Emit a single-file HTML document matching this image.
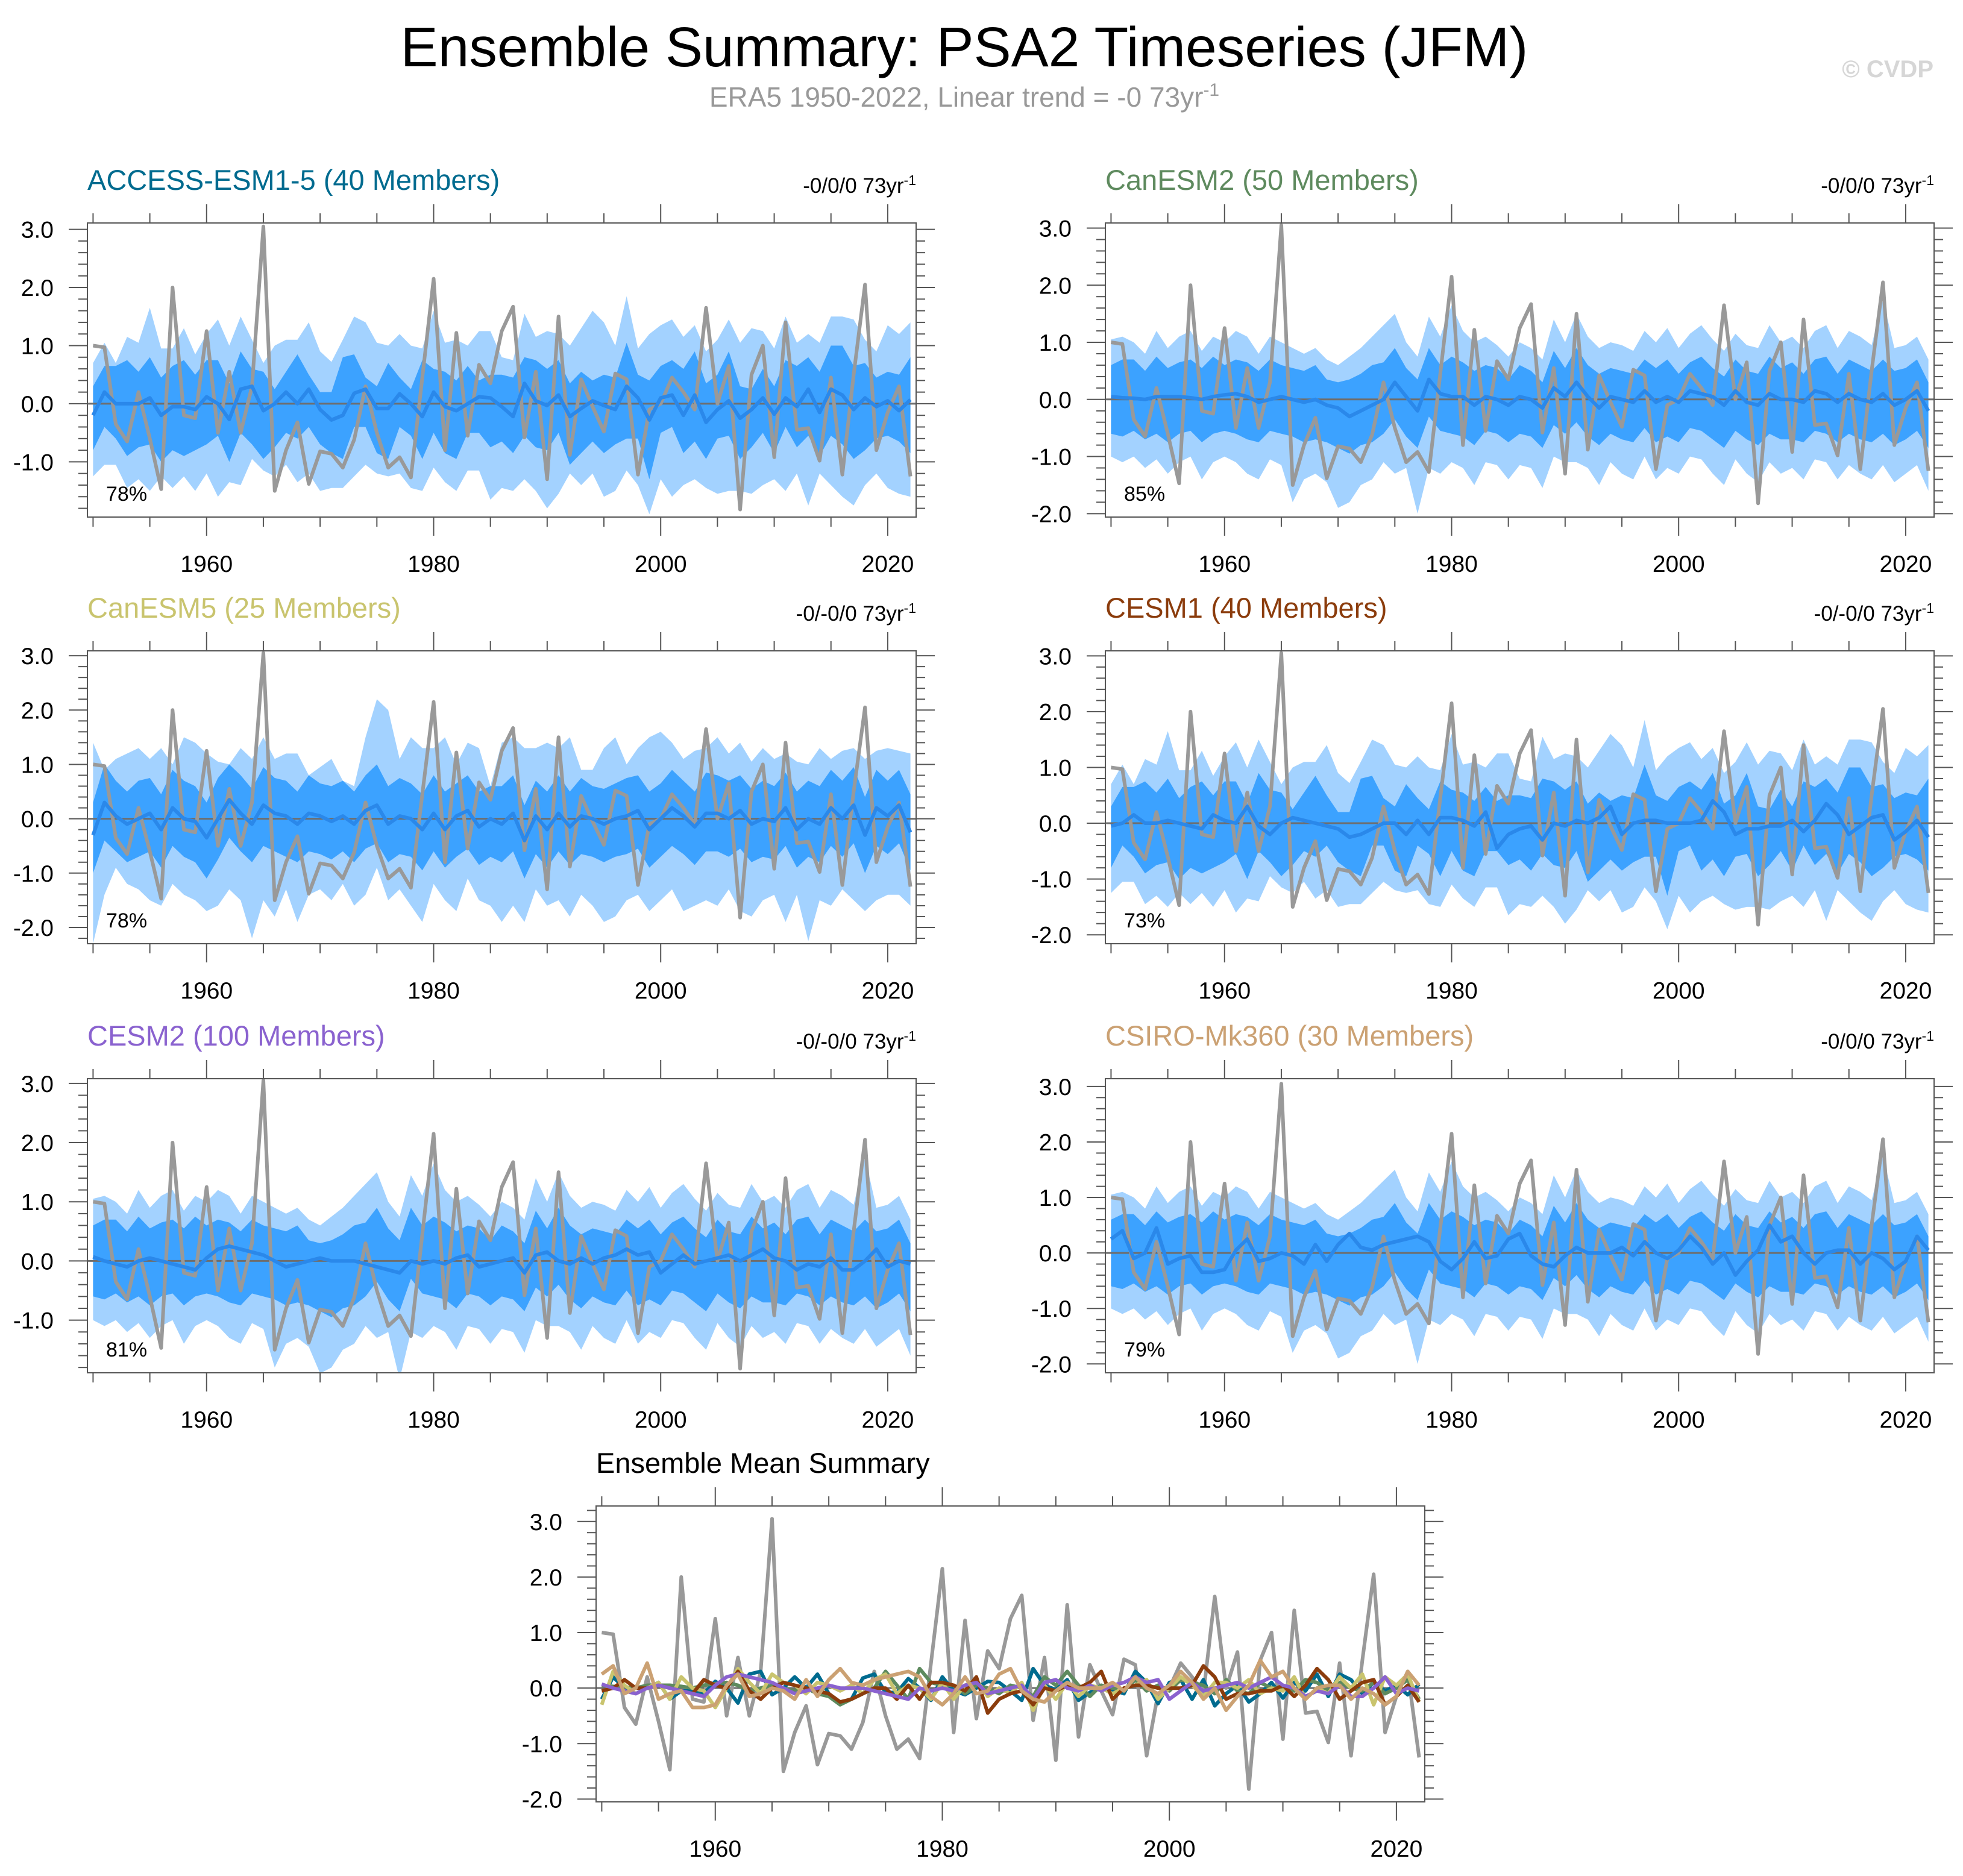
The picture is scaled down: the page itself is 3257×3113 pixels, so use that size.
<!DOCTYPE html>
<html><head><meta charset="utf-8">
<style>
html,body{margin:0;padding:0;background:#fff;}
svg{display:block;font-family:"Liberation Sans",sans-serif;}
</style></head>
<body>
<svg id="fig" width="3257" height="3113" viewBox="0 0 3257 3113" xmlns="http://www.w3.org/2000/svg">
<text x="1600" y="110" font-size="93" text-anchor="middle" fill="#000">Ensemble Summary: PSA2 Timeseries (JFM)</text>
<text x="1600" y="177" font-size="46" text-anchor="middle" fill="#999">ERA5 1950-2022, Linear trend = -0 73yr<tspan dy="-18" font-size="30">-1</tspan></text>
<text x="3208" y="128" font-size="40" font-weight="bold" text-anchor="end" fill="#d6d6d6">© CVDP</text>
</svg>
<script>
const years = []; for (let y = 1950; y <= 2022; y++) years.push(y);
const era5 = [1.0,0.97,-0.35,-0.65,0.2,-0.6,-1.47,2.0,-0.2,-0.25,
1.25,-0.5,0.55,-0.5,0.3,3.05,-1.5,-0.8,-0.32,-1.38,
-0.82,-0.86,-1.1,-0.62,0.3,-0.5,-1.1,-0.92,-1.27,0.45,
2.15,-0.8,1.22,-0.55,0.67,0.35,1.25,1.67,-0.58,0.55,
-1.3,1.5,-0.88,0.42,-0.05,-0.48,0.52,0.42,-1.22,-0.1,
0.0,0.45,0.2,-0.1,1.65,0.0,0.65,-1.82,0.5,1.0,
-0.92,1.4,-0.45,-0.42,-0.98,0.45,-1.22,0.5,2.05,-0.8,
-0.15,0.3,-1.25];

const meanAccess = [-0.2,0.2,0.0,0.0,0.0,0.1,-0.2,-0.05,-0.05,-0.1,
0.12,0.0,-0.27,0.25,0.3,-0.12,0.0,0.2,0.0,0.25,
-0.1,-0.28,-0.2,0.18,0.25,-0.08,-0.08,0.17,0.0,-0.22,
0.2,-0.05,-0.12,0.0,0.12,0.1,-0.05,-0.22,0.35,0.05,
-0.03,0.15,-0.22,-0.08,0.05,-0.03,-0.1,0.3,0.1,-0.28,
0.1,0.15,-0.2,0.15,-0.32,-0.1,0.05,-0.25,-0.1,0.1,
-0.18,0.1,-0.05,0.25,-0.15,0.25,0.15,-0.1,0.1,-0.05,
0.05,-0.12,0.07];
const innerHiA = [0.3,0.65,0.65,0.75,0.55,0.8,0.45,0.65,0.75,0.5,
0.75,0.75,0.35,0.9,0.6,0.55,0.25,0.55,0.85,0.5,
0.2,0.2,0.8,0.85,0.45,0.3,0.7,0.45,0.25,0.75,
0.6,0.55,0.4,0.65,0.4,0.5,0.5,0.45,0.8,0.75,
0.6,0.75,0.35,0.55,0.4,0.5,0.45,1.05,0.5,0.4,
0.65,0.75,0.6,0.9,0.35,0.5,0.9,0.3,0.25,0.6,
0.3,0.75,0.65,0.8,0.55,1.0,1.0,0.65,0.7,0.45,
0.55,0.5,0.8];
const innerLoA = [-0.8,-0.4,-0.6,-0.9,-0.75,-0.7,-1.0,-0.8,-0.9,-0.8,
-0.7,-0.55,-1.0,-0.5,-0.7,-0.95,-0.75,-0.5,-0.6,-0.4,
-0.7,-0.85,-0.95,-0.4,-0.4,-0.85,-0.95,-0.4,-0.55,-0.95,
-0.5,-0.85,-0.95,-0.5,-0.5,-0.75,-0.65,-0.85,-0.55,-0.75,
-0.8,-0.5,-1.05,-0.85,-0.65,-0.85,-0.7,-0.6,-0.6,-1.3,
-0.5,-0.4,-0.85,-0.65,-0.95,-0.6,-0.55,-0.95,-0.75,-0.5,
-0.85,-0.4,-0.75,-0.55,-0.9,-0.55,-0.7,-0.95,-0.8,-0.6,
-0.55,-0.65,-0.85];
const outerHiA = [0.7,1.05,0.7,1.15,1.05,1.65,0.95,0.95,1.3,0.85,
1.2,1.45,1.0,1.5,1.1,0.7,1.0,1.1,1.1,1.4,
0.9,0.72,1.1,1.5,1.4,1.05,1.0,1.2,1.0,0.95,
1.6,1.05,1.1,1.0,1.25,1.25,0.8,0.75,1.55,1.15,
1.25,1.2,1.0,1.3,1.6,1.4,1.0,1.85,0.95,1.2,
1.35,1.45,1.15,1.35,0.9,1.1,1.45,1.05,1.3,1.25,
0.95,1.5,1.05,1.2,1.05,1.5,1.5,1.45,1.1,0.9,
1.35,1.2,1.4];
const outerLoA = [-1.25,-1.05,-1.05,-1.45,-1.3,-1.5,-1.25,-1.45,-1.25,-1.5,
-1.2,-1.6,-1.35,-1.4,-0.95,-1.15,-1.25,-1.05,-1.35,-1.2,
-1.5,-1.45,-1.45,-1.25,-1.05,-1.2,-1.25,-1.2,-1.45,-1.5,
-1.1,-1.35,-1.5,-1.15,-1.15,-1.65,-1.45,-1.5,-1.3,-1.5,
-1.8,-1.55,-1.2,-1.4,-1.2,-1.6,-1.5,-1.15,-1.4,-1.9,
-1.3,-1.6,-1.4,-1.3,-1.45,-1.55,-1.5,-1.5,-1.55,-1.4,
-1.3,-1.5,-1.2,-1.75,-1.2,-1.4,-1.6,-1.75,-1.4,-1.2,
-1.45,-1.55,-1.6];

const meanCan2 = [0.05,0.03,0.02,0.0,0.05,0.05,0.05,0.03,0.0,0.05,
0.08,0.1,0.05,-0.05,0.0,0.05,0.0,-0.05,0.0,-0.1,
-0.15,-0.3,-0.2,-0.1,0.0,0.3,0.05,-0.2,0.35,0.1,
0.05,0.05,-0.1,0.05,0.0,-0.1,0.05,0.0,-0.15,0.2,
0.05,0.3,0.05,-0.15,0.05,0.0,-0.05,0.15,-0.05,0.05,
-0.05,0.15,0.1,0.05,-0.1,0.15,-0.05,-0.1,0.1,0.0,
0.0,-0.05,0.15,0.1,-0.05,0.1,0.0,-0.05,0.1,-0.1,
0.0,0.15,-0.2];
const innerHiB = [0.6,0.7,0.7,0.5,0.75,0.55,0.65,0.7,0.55,0.75,
0.6,0.7,0.65,0.5,0.7,0.6,0.55,0.5,0.6,0.35,
0.3,0.35,0.45,0.6,0.65,0.9,0.55,0.35,0.9,0.6,
0.75,0.65,0.5,0.6,0.55,0.35,0.6,0.5,0.3,0.85,
0.55,0.9,0.6,0.45,0.55,0.5,0.45,0.7,0.55,0.7,
0.45,0.65,0.75,0.55,0.4,0.7,0.5,0.45,0.75,0.55,
0.65,0.45,0.7,0.75,0.45,0.7,0.6,0.5,0.7,0.5,
0.55,0.7,0.3];
const innerLoB = [-0.6,-0.65,-0.55,-0.7,-0.6,-0.75,-0.6,-0.55,-0.75,-0.6,
-0.55,-0.6,-0.7,-0.75,-0.55,-0.6,-0.65,-0.75,-0.7,-0.75,
-0.85,-0.95,-0.8,-0.75,-0.6,-0.35,-0.65,-0.85,-0.3,-0.55,
-0.6,-0.65,-0.8,-0.55,-0.6,-0.75,-0.6,-0.65,-0.85,-0.45,
-0.6,-0.4,-0.65,-0.8,-0.6,-0.7,-0.75,-0.5,-0.75,-0.65,
-0.75,-0.5,-0.55,-0.7,-0.85,-0.55,-0.7,-0.8,-0.6,-0.7,
-0.7,-0.75,-0.55,-0.6,-0.75,-0.6,-0.7,-0.75,-0.6,-0.8,
-0.7,-0.55,-0.85];
const outerHiB = [1.05,1.1,1.0,0.8,1.2,0.9,1.1,1.2,0.85,1.1,
1.0,1.2,1.1,0.8,1.1,1.0,0.9,0.8,0.9,0.7,
0.6,0.75,0.9,1.1,1.3,1.5,1.0,0.75,1.45,1.1,
1.65,1.2,1.0,1.1,0.95,0.75,1.0,0.9,0.7,1.4,
1.0,1.5,1.1,0.9,1.0,0.95,0.85,1.2,1.0,1.25,
0.9,1.15,1.3,1.05,0.85,1.15,0.95,0.9,1.3,1.0,
1.1,0.9,1.2,1.3,0.9,1.2,1.1,0.95,1.75,0.9,
0.95,1.1,0.7];
const outerLoB = [-1.0,-1.1,-1.0,-1.2,-1.05,-1.3,-1.1,-1.0,-1.4,-1.1,
-1.0,-1.1,-1.3,-1.4,-1.05,-1.15,-1.8,-1.4,-1.3,-1.45,
-1.9,-1.8,-1.5,-1.4,-1.1,-1.3,-1.2,-2.0,-1.2,-1.3,
-1.1,-1.2,-1.5,-1.1,-1.15,-1.4,-1.15,-1.2,-1.55,-1.0,
-1.1,-1.1,-1.2,-1.5,-1.1,-1.3,-1.4,-1.0,-1.4,-1.2,
-1.3,-1.0,-1.05,-1.3,-1.5,-1.05,-1.3,-1.45,-1.1,-1.3,
-1.2,-1.4,-1.05,-1.1,-1.4,-1.15,-1.3,-1.4,-1.15,-1.45,
-1.3,-1.15,-1.6];

const meanCan5 = [-0.3,0.3,0.05,-0.1,0.0,0.1,-0.2,0.2,0.0,-0.05,
-0.35,0.0,0.35,0.1,-0.1,0.25,0.1,0.05,-0.1,0.1,
0.05,-0.05,0.05,-0.1,0.15,0.25,-0.1,0.05,0.0,-0.2,
0.1,-0.2,0.05,0.15,-0.15,0.0,-0.1,0.1,-0.4,0.05,
-0.2,0.1,-0.15,0.05,0.0,-0.1,0.0,0.05,0.15,-0.2,
0.0,0.2,0.05,-0.15,0.1,0.1,0.0,0.15,-0.1,0.0,
-0.05,0.2,-0.2,0.0,-0.1,0.2,0.0,0.25,-0.3,0.2,
0.05,0.25,-0.25];
const innerHiC = [0.3,1.0,0.7,0.5,0.7,0.75,0.45,0.9,0.7,0.6,
0.3,0.75,1.0,0.8,0.55,0.95,0.75,0.7,0.5,0.8,
0.65,0.6,0.7,0.5,0.8,1.0,0.6,0.75,0.65,0.45,
0.8,0.5,0.65,0.8,0.5,0.6,0.6,0.8,0.25,0.7,
0.5,0.8,0.5,0.75,0.6,0.55,0.65,0.75,0.8,0.5,
0.65,0.9,0.7,0.5,0.85,0.8,0.7,0.8,0.55,0.7,
0.6,0.85,0.5,0.7,0.6,0.9,0.7,0.95,0.4,0.9,
0.7,0.9,0.45];
const innerLoC = [-1.0,-0.4,-0.6,-0.8,-0.7,-0.6,-0.9,-0.5,-0.7,-0.8,
-1.1,-0.75,-0.35,-0.6,-0.8,-0.5,-0.6,-0.7,-0.8,-0.6,
-0.65,-0.75,-0.6,-0.8,-0.55,-0.45,-0.8,-0.65,-0.7,-0.95,
-0.6,-0.9,-0.7,-0.55,-0.85,-0.7,-0.8,-0.6,-1.1,-0.65,
-0.9,-0.6,-0.85,-0.65,-0.7,-0.8,-0.7,-0.65,-0.55,-0.9,
-0.7,-0.5,-0.65,-0.85,-0.6,-0.6,-0.7,-0.55,-0.8,-0.7,
-0.75,-0.5,-0.9,-0.7,-0.8,-0.5,-0.7,-0.45,-1.0,-0.5,
-0.65,-0.45,-0.95];
const outerHiC = [1.4,0.9,1.1,1.2,1.3,1.1,1.3,1.0,1.5,1.4,
1.2,1.05,1.0,1.3,1.1,1.5,1.1,1.2,1.2,0.8,
0.95,1.1,0.7,0.6,1.5,2.2,2.0,1.1,1.5,1.3,
1.3,1.5,1.0,1.4,1.3,0.6,1.4,1.5,1.3,1.3,
1.4,1.3,1.5,0.9,0.9,1.3,1.5,1.0,1.3,1.5,
1.6,1.4,1.1,1.25,1.3,1.5,1.2,1.4,1.05,1.3,
1.1,1.2,1.05,1.0,1.3,1.1,1.25,1.3,1.1,1.25,
1.3,1.25,1.2];
const outerLoC = [-2.3,-1.4,-0.9,-1.2,-1.3,-1.5,-1.6,-1.2,-1.4,-1.5,
-1.7,-1.6,-1.3,-1.5,-2.2,-1.5,-1.8,-1.3,-1.9,-1.4,
-1.3,-1.5,-1.2,-1.6,-1.4,-0.9,-1.5,-1.3,-1.6,-1.9,
-1.2,-1.5,-1.7,-1.1,-1.5,-1.6,-1.9,-1.6,-1.9,-1.3,
-1.6,-1.5,-1.8,-1.4,-1.6,-1.9,-1.8,-1.5,-1.4,-1.7,
-1.5,-1.3,-1.7,-1.6,-1.5,-1.6,-1.3,-1.7,-1.8,-1.5,
-1.4,-1.9,-1.4,-2.25,-1.5,-1.6,-1.3,-1.5,-1.7,-1.5,
-1.4,-1.4,-1.6];

const meanCesm1 = [-0.05,0.0,0.15,0.0,0.0,0.05,0.0,-0.05,-0.1,0.15,
0.05,0.0,0.3,-0.05,-0.2,0.0,0.1,0.05,0.0,-0.05,
-0.1,-0.25,-0.2,-0.1,0.0,0.0,-0.2,0.05,-0.2,0.1,
0.1,0.05,-0.05,0.2,-0.45,-0.2,-0.1,-0.05,-0.3,0.0,
-0.05,0.05,0.0,0.1,0.3,-0.2,0.0,0.05,0.05,0.0,
0.0,0.0,0.05,0.4,0.2,-0.2,-0.1,-0.1,-0.05,-0.05,
0.05,-0.15,0.05,0.35,0.15,-0.2,-0.05,0.1,0.15,-0.3,
-0.15,0.05,-0.25];
const meanCesm2 = [0.07,0.0,-0.05,-0.1,0.0,0.05,0.0,-0.05,-0.1,-0.15,
0.05,0.2,0.25,0.2,0.15,0.1,0.0,-0.1,-0.05,0.0,
0.05,0.0,0.0,0.0,-0.05,-0.1,-0.15,-0.2,0.0,-0.05,
0.0,-0.05,0.05,0.1,-0.1,-0.05,0.0,0.05,-0.2,0.1,
0.15,0.0,-0.05,0.05,-0.05,0.05,0.1,0.2,0.1,0.15,
-0.2,-0.05,0.1,-0.05,0.0,0.05,0.1,0.0,0.1,0.2,
0.05,0.0,-0.15,-0.05,-0.1,0.05,-0.15,-0.15,0.0,0.2,
-0.1,0.0,-0.05];
const meanCsiro = [0.25,0.4,-0.1,0.0,0.45,-0.2,-0.1,-0.05,-0.35,-0.35,
-0.3,0.05,0.25,-0.15,-0.1,0.0,-0.05,-0.2,0.15,-0.15,
0.15,0.35,0.1,0.05,0.15,0.2,0.25,0.3,0.2,-0.15,
-0.3,-0.1,0.2,-0.1,-0.05,0.25,0.35,-0.05,-0.2,-0.25,
-0.05,0.1,0.0,0.0,0.0,0.1,-0.05,0.2,0.0,-0.1,
0.05,0.3,0.1,-0.2,0.0,-0.4,-0.15,0.05,0.5,0.2,
0.3,0.0,-0.2,0.0,0.05,0.05,-0.2,0.0,-0.1,-0.3,
-0.15,0.3,0.05];

const modelNames = ["ACCESS-ESM1-5 (40 Members)","CanESM2 (50 Members)","CanESM5 (25 Members)","CESM1 (40 Members)","CESM2 (100 Members)","CSIRO-Mk360 (30 Members)"];
const modelColors = ["#006b8f","#5e8a5e","#c9c46e","#8b3c0c","#8a62cf","#cba173"];
const trendLabels = ["-0/0/0 73yr","-0/0/0 73yr","-0/-0/0 73yr","-0/-0/0 73yr","-0/-0/0 73yr","-0/0/0 73yr"];
const pctLabels = ["78%","85%","78%","73%","81%","79%"];
const yTickValues = [-2,-1,0,1,2,3];
const xTickMajor = [1960,1980,2000,2020];

const NS = "http://www.w3.org/2000/svg";
const svg = document.getElementById("fig");
function mk(tag, attrs, parent) {
  const e = document.createElementNS(NS, tag);
  for (const k in attrs) e.setAttribute(k, attrs[k]);
  (parent || svg).appendChild(e);
  return e;
}

function drawPanel(p, idx) {
  const g = mk("g", {});
  
  
  const X0 = 1949.5, X1 = 2022.5;
  const xs = v => p.x + (v - X0) / (X1 - X0) * p.w;
  const ys = v => p.y + (p.ymax - v) / (p.ymax - p.ymin) * p.h;
  const clipId = "clip" + idx;
  const cp = mk("clipPath", {id: clipId}, g);
  mk("rect", {x: p.x, y: p.y, width: p.w, height: p.h}, cp);
  const inner = mk("g", {"clip-path": "url(#" + clipId + ")"}, g);

  function band(hi, lo, col, nm) {
    let pts = [];
    years.forEach((yr, i) => pts.push(xs(yr).toFixed(1) + "," + ys(hi[i]).toFixed(1)));
    for (let i = years.length - 1; i >= 0; i--) pts.push(xs(years[i]).toFixed(1) + "," + ys(lo[i]).toFixed(1));
    const e = mk("polygon", {points: pts.join(" "), fill: col}, inner);
    
    
  }
  function line(arr, col, sw, nm) {
    const pts = years.map((yr, i) => xs(yr).toFixed(1) + "," + ys(arr[i]).toFixed(1)).join(" ");
    const e = mk("polyline", {points: pts, fill: "none", stroke: col, "stroke-width": sw, "stroke-linejoin": "round"}, inner);
    
    
  }
  if (p.outerHi) {
    band(p.outerHi, p.outerLo, "#a3d2ff", "range-band");
    band(p.innerHi, p.innerLo, "#3ca2ff", "spread-band");
  }
  const zl = mk("line", {x1: p.x, x2: p.x + p.w, y1: ys(0), y2: ys(0), stroke: "#6e6e6e", "stroke-width": 3}, inner);
  
  
  if (p.summary) {
    line(era5, "#999999", 6, "era5-line");
    p.summary.forEach((s, k) => line(s, modelColors[k], 6, "ensemble-mean-" + k));
  } else {
    line(era5, "#999999", 6, "era5-line");
    line(p.mean, "#2a88ea", 6, "ensemble-mean-line");
  }
  const fr = mk("rect", {x: p.x, y: p.y, width: p.w, height: p.h, fill: "none", stroke: "#555", "stroke-width": 2}, g);
  
  

  for (let yr = 1950; yr <= 2020; yr += 5) {
    const L = (yr % 20 === 0) ? 31 : 16;
    const x = xs(yr);
    mk("line", {x1: x, x2: x, y1: p.y, y2: p.y - L, stroke: "#555", "stroke-width": 2}, g);
    mk("line", {x1: x, x2: x, y1: p.y + p.h, y2: p.y + p.h + L, stroke: "#555", "stroke-width": 2}, g);
  }
  xTickMajor.forEach(yr => {
    const t = mk("text", {x: xs(yr), y: p.y + p.h + 91, "font-size": 39, "text-anchor": "middle", fill: "#000"}, g);
    t.textContent = yr;
    
    
  });
  for (let k = -15; k <= 20; k++) {
    const v = k * 0.2;
    if (v < p.ymin - 1e-6 || v > p.ymax + 1e-6) continue;
    const major = Math.abs(v - Math.round(v)) < 1e-6;
    const L = major ? 31 : 15;
    const y = ys(v);
    mk("line", {x1: p.x, x2: p.x - L, y1: y, y2: y, stroke: "#555", "stroke-width": 2}, g);
    mk("line", {x1: p.x + p.w, x2: p.x + p.w + L, y1: y, y2: y, stroke: "#555", "stroke-width": 2}, g);
  }
  yTickValues.forEach(v => {
    if (v < p.ymin - 0.02 || v > p.ymax + 0.02) return;
    const t = mk("text", {x: p.x - 56, y: ys(v) + 14, "font-size": 39, "text-anchor": "end", fill: "#000"}, g);
    t.textContent = v.toFixed(1);
    
    
  });
  const tt = mk("text", {x: p.x, y: p.y - 55, "font-size": 47, fill: p.titleColor}, g);
  tt.textContent = p.title;
  
  
  if (p.trend) {
    const tr = mk("text", {x: p.x + p.w, y: p.y - 50, "font-size": 35, "text-anchor": "end", fill: "#000"}, g);
    tr.innerHTML = p.trend + '<tspan dy="-13" font-size="23">-1</tspan>';
    
    
  }
  if (p.pct) {
    const pc = mk("text", {x: p.x + 31, y: p.y + p.h - 27, "font-size": 34, fill: "#000"}, g);
    pc.textContent = p.pct;
    
    
  }
}

const LX = 145, RX = 1834, W = 1375, H = 488;
const panels = [
  {name: "panel-access-esm1-5", x: LX, y: 370, w: W, h: H, ymin: -1.95, ymax: 3.11, mean: meanAccess, innerHi: innerHiA, innerLo: innerLoA, outerHi: outerHiA, outerLo: outerLoA},
  {name: "panel-canesm2", x: RX, y: 370, w: W, h: H, ymin: -2.06, ymax: 3.09, mean: meanCan2, innerHi: innerHiB, innerLo: innerLoB, outerHi: outerHiB, outerLo: outerLoB},
  {name: "panel-canesm5", x: LX, y: 1080, w: W, h: 486, ymin: -2.3, ymax: 3.09, mean: meanCan5, innerHi: innerHiC, innerLo: innerLoC, outerHi: outerHiC, outerLo: outerLoC},
  {name: "panel-cesm1", x: RX, y: 1080, w: W, h: 486, ymin: -2.16, ymax: 3.09, mean: meanCesm1, innerHi: innerHiA, innerLo: innerLoA, outerHi: outerHiA, outerLo: outerLoA},
  {name: "panel-cesm2", x: LX, y: 1790, w: W, h: 488, ymin: -1.89, ymax: 3.08, mean: meanCesm2, innerHi: innerHiB, innerLo: innerLoB, outerHi: outerHiB, outerLo: outerLoB},
  {name: "panel-csiro-mk360", x: RX, y: 1790, w: W, h: 488, ymin: -2.16, ymax: 3.14, mean: meanCsiro, innerHi: innerHiB, innerLo: innerLoB, outerHi: outerHiB, outerLo: outerLoB}
];
panels.forEach((p, i) => {
  p.title = modelNames[i]; p.titleColor = modelColors[i]; p.trend = trendLabels[i]; p.pct = pctLabels[i];
  drawPanel(p, i);
});
drawPanel({name: "panel-ensemble-mean-summary", x: 989, y: 2499, w: 1375, h: 491, ymin: -2.05, ymax: 3.28,
  title: "Ensemble Mean Summary", titleColor: "#000",
  summary: [meanAccess, meanCan2, meanCan5, meanCesm1, meanCesm2, meanCsiro]}, 6);
</script>
</body></html>
